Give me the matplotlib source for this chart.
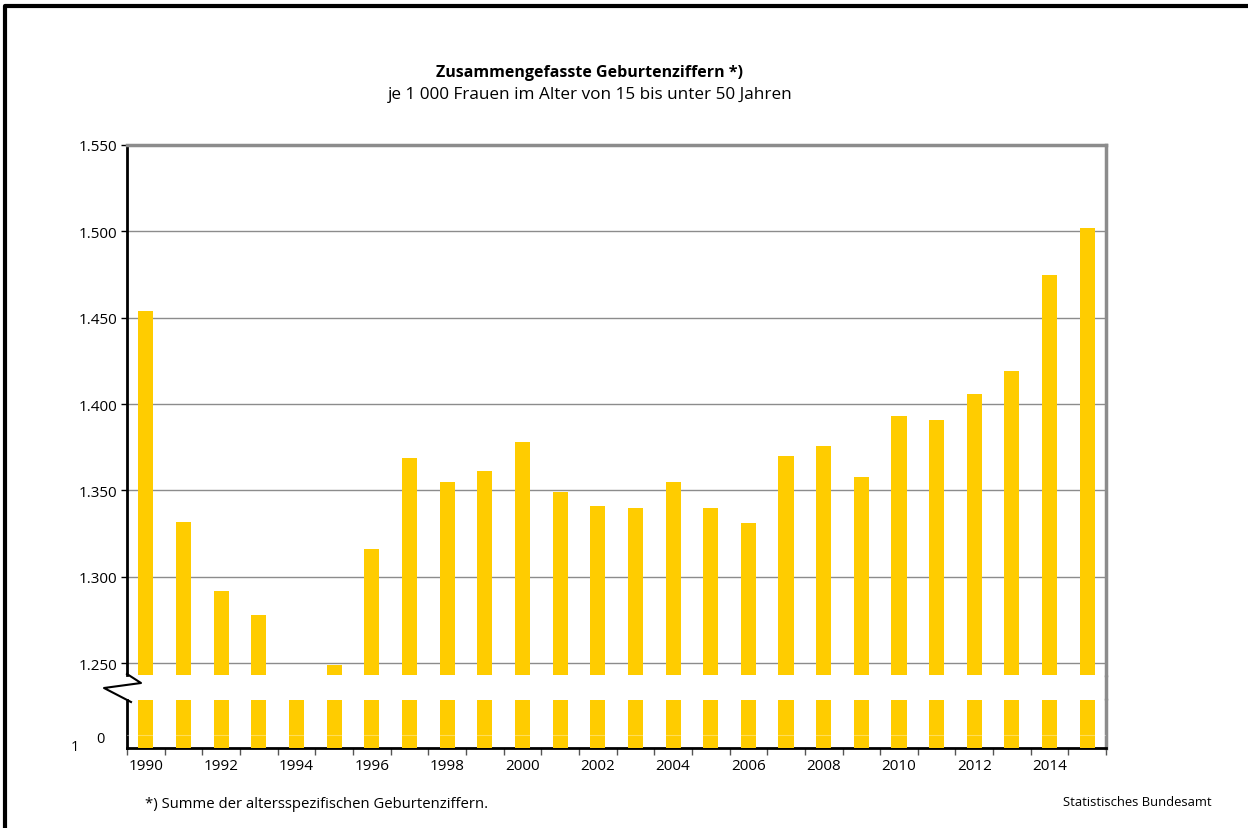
import numpy as np
import matplotlib
matplotlib.use("Agg")
import matplotlib.pyplot as plt
from matplotlib.lines import Line2D

plt.rcParams["font.family"] = ["Open Sans", "DejaVu Sans"]

# Zusammengefasste Geburtenziffern je 1 000 Frauen
years = list(range(1990, 2016))
rates = [1454, 1332, 1292, 1278, 1243, 1249, 1316, 1369, 1355, 1361,
         1378, 1349, 1341, 1340, 1355, 1340, 1331, 1370, 1376, 1358,
         1393, 1391, 1406, 1419, 1475, 1502]
y_ticks = [1250, 1300, 1350, 1400, 1450, 1500, 1550]
y_labels = ["1.250", "1.300", "1.350", "1.400", "1.450", "1.500", "1.550"]

bar_color = "#FFCC00"
grid_color = "#8c8c8c"
W, H = 1248, 829
left, width = 0.1018, 0.7845

fig = plt.figure(figsize=(12.48, 8.29), dpi=100)
x = np.arange(len(years))

# upper (main) part of the broken axis
ax = fig.add_axes([left, 0.1846, width, 0.6393])
ax.bar(x, rates, width=0.4, color=bar_color, zorder=3)
ax.set_xlim(-0.5, len(years) - 0.5)
ax.set_ylim(1243.2, 1550)
ax.set_yticks(y_ticks)
ax.set_yticklabels(y_labels, fontsize=11)
ax.tick_params(axis="y", length=4, width=1, pad=3)
ax.set_xticks([])
for t in y_ticks[:-1]:
    ax.axhline(t, color=grid_color, lw=1, zorder=1)
ax.spines["left"].set_color("black")
ax.spines["left"].set_linewidth(2)
ax.spines["top"].set_color(grid_color)
ax.spines["top"].set_linewidth(2.5)
ax.spines["right"].set_color(grid_color)
ax.spines["right"].set_linewidth(2.5)
ax.spines["bottom"].set_visible(False)

# lower stub part
ax2 = fig.add_axes([left, 0.0965, width, 0.0579])
ax2.bar(x, rates, width=0.4, color=bar_color, zorder=3)
ax2.axhline(2.7, color="white", alpha=0.35, lw=0.8, zorder=4)
ax2.set_xlim(-0.5, len(years) - 0.5)
ax2.set_ylim(0, 10)
ax2.set_yticks([])
ax2.set_xticks(np.arange(len(years) + 1) - 0.5, minor=False)
ax2.set_xticklabels([])
ax2.tick_params(axis="x", length=5, width=1, color="#555555")
ax2.set_xticks(x[::2], minor=True)
ax2.set_xticklabels([str(y) for y in years[::2]], minor=True, fontsize=11)
ax2.tick_params(axis="x", which="minor", length=0, pad=7)
ax2.spines["left"].set_color("black")
ax2.spines["left"].set_linewidth(2)
ax2.spines["bottom"].set_color("black")
ax2.spines["bottom"].set_linewidth(2)
ax2.spines["right"].set_color(grid_color)
ax2.spines["right"].set_linewidth(2.5)
ax2.spines["top"].set_visible(False)

# right border runs on through the gap
fig.add_artist(Line2D([left + width, left + width], [0.1846, 0.1544],
                      color=grid_color, lw=2.5, solid_capstyle="butt"))

fig.text(100 / W, 1 - 740 / H, "0", fontsize=10.5, ha="center", va="center")
fig.text(75 / W, 1 - 748 / H, "1", fontsize=10.5, ha="center", va="center")

# axis break zigzag
zx = [127, 141, 104, 131]
zy = [675, 684, 689, 703]
fig.add_artist(Line2D([v / W for v in zx], [1 - v / H for v in zy],
                      color="black", lw=1.5))

# outer frame (top and left edges)
fig.add_artist(Line2D([5 / W, 5 / W, 1.0], [0.0, 1 - 7 / H, 1 - 7 / H],
                      color="black", lw=3))

fig.text(589 / W, 1 - 73 / H, "Zusammengefasste Geburtenziffern *)",
         fontsize=11.5, fontweight="bold", ha="center", va="center")
fig.text(590 / W, 1 - 95 / H, "je 1 000 Frauen im Alter von 15 bis unter 50 Jahren",
         fontsize=12.3, ha="center", va="center")
fig.text(145 / W, 1 - 805 / H, "*) Summe der altersspezifischen Geburtenziffern.",
         fontsize=10.7, ha="left", va="center")
fig.text(1212 / W, 1 - 803 / H, "Statistisches Bundesamt",
         fontsize=9.4, ha="right", va="center")

fig.savefig("out.png", dpi=100)
